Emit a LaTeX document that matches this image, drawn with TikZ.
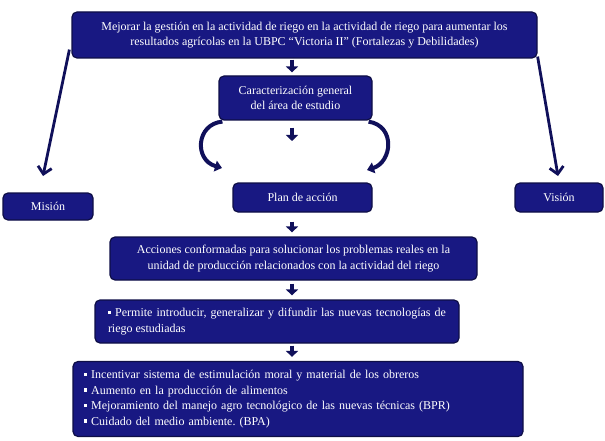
\documentclass[tikz,border=0pt]{standalone}
\usepackage{fontspec}
\setmainfont{Liberation Serif}
\usetikzlibrary{arrows.meta}
\frenchspacing
\definecolor{boxfill}{RGB}{24,24,130}
\definecolor{boxline}{RGB}{14,14,70}
\definecolor{arrcol}{RGB}{16,16,90}
\newcommand{\sqb}{\raisebox{2.5pt}{\rule{3.2pt}{3.2pt}}\hspace{4pt}}
\tikzset{
  box/.style={draw=boxline, line width=1.2pt, fill=boxfill, rounded corners=5pt, text=white, font=\fontsize{12}{15.5}\selectfont, align=center, inner sep=2pt},
  blockarr/.style={arrcol, line width=4.5pt, -{Triangle[width=12pt,length=6pt]}},
  curvearr/.style={arrcol, line width=4pt, -{Triangle[width=11pt,length=7pt]}},
  longarr/.style={arrcol, line width=2.8pt, -{Straight Barb[length=7pt,width=14pt]}}
}
\begin{document}
\begin{tikzpicture}[x=1pt,y=-1pt]
\useasboundingbox (0,0) rectangle (605,441);
\node[box, minimum width=465pt, minimum height=46pt] (top) at (304.5,35) {Mejorar la gestión en la actividad de riego en la actividad de riego para aumentar los\\resultados agrícolas en la UBPC “Victoria II” (Fortalezas y Debilidades)};
\node[box, minimum width=153pt, minimum height=44pt] (car) at (295.5,98) {Caracterización general\\del área de estudio};
\node[box, minimum width=90pt, minimum height=27pt] (mis) at (48,206.5) {Misión};
\node[box, minimum width=88pt, minimum height=29pt] (vis) at (559,197.5) {Visión};
\node[box, minimum width=139pt, minimum height=29pt] (plan) at (302.5,197.5) {Plan de acción};
\node[box, minimum width=367pt, minimum height=43pt] (acc) at (293.5,258.5) {Acciones conformadas para solucionar los problemas reales en la\\unidad de producción relacionados con la actividad del riego};
\node[box, minimum width=364pt, minimum height=43pt, text width=338pt, align=justify] (perm) at (277,321.5) {\hyphenpenalty=10000\sqb Permite introducir, generalizar y difundir las nuevas tecnologías de riego estudiadas};
\node[box, minimum width=450pt, minimum height=75pt, text width=428pt, align=left] (last) at (298,399) {\sqb Incentivar sistema de estimulación moral y material de los obreros\\\sqb Aumento en la producción de alimentos\\\sqb Mejoramiento del manejo agro tecnológico de las nuevas técnicas (BPR)\\\sqb Cuidado del medio ambiente. (BPA)};
% block arrows
\coordinate (ax) at (292,0);
\draw[blockarr, shorten <=1pt, shorten >=3pt] (top.south -| ax) -- (car.north -| ax);
\coordinate (c1) at (292,141);
\draw[blockarr, shorten <=7pt] (car.south -| ax) -- (c1);
\draw[blockarr, shorten <=9pt, shorten >=4pt] (plan.south -| ax) -- (acc.north -| ax);
\draw[blockarr, shorten <=3pt, shorten >=4pt] (acc.south -| ax) -- (perm.north -| ax);
\draw[blockarr, shorten <=2pt, shorten >=4pt] (perm.south -| ax) -- (last.north -| ax);
% curved arrows
\coordinate (lc) at (222,168);
\coordinate (rc) at (367,170);
\draw[curvearr] ([xshift=4pt,yshift=-1pt]car.south west) .. controls (196,124) and (194,160) .. (lc);
\draw[curvearr] ([xshift=-4pt,yshift=-1pt]car.south east) .. controls (396,126) and (392,162) .. (rc);
% long arrows
\coordinate (lm) at (43,176);
\coordinate (rv) at (558,176);
\draw[longarr] ([xshift=-2pt,yshift=9pt]top.south west) -- (lm);
\draw[longarr] ([xshift=0pt,yshift=2pt]top.south east) -- (rv);
\end{tikzpicture}
\end{document}
